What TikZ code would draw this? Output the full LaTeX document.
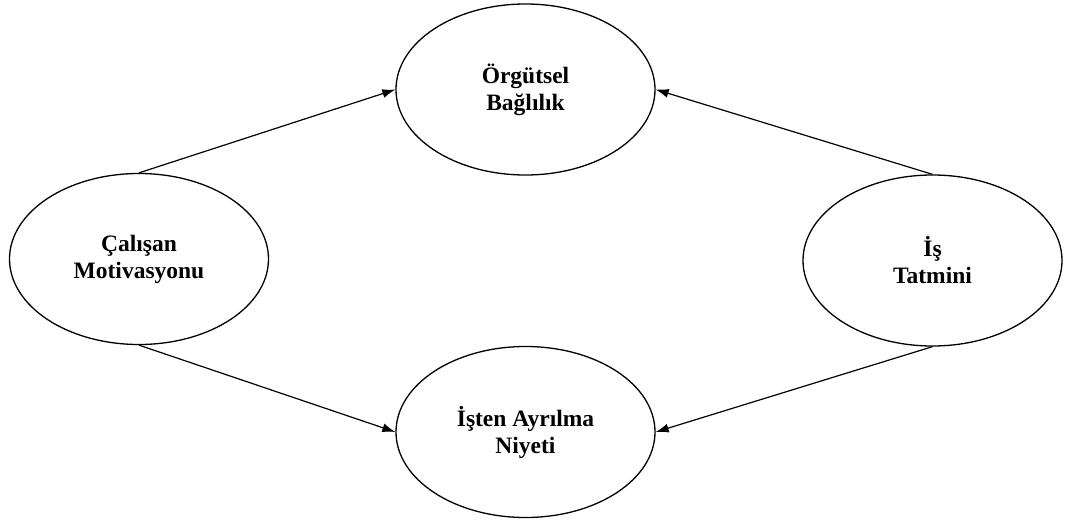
\documentclass[tikz,border=0pt]{standalone}
\usepackage{fontspec}
\setmainfont{Liberation Serif}
\usetikzlibrary{shapes.geometric,arrows.meta}
\tikzset{
  oval/.style={ellipse, draw=black, line width=1.3pt, minimum width=259pt, minimum height=171pt, inner sep=0pt, align=center, font=\fontsize{23.5}{27}\selectfont\bfseries},
  conn/.style={line width=1.2pt, -{Latex[length=13pt,width=9pt]}}
}
\begin{document}
\begin{tikzpicture}[x=1pt,y=-1pt]
\useasboundingbox (0,0) rectangle (1069,522);
\node[oval] (ob) at (525.5,89.5) {Örgütsel\\Bağlılık};
\node[oval] (cm) at (139,259) {Çalışan\\Motivasyonu};
\node[oval] (it) at (932.5,260.5) {İş\\Tatmini};
\node[oval] (ia) at (525.5,432) {İşten Ayrılma\\Niyeti};
\draw[conn] (cm.north) -- (ob.west);
\draw[conn] (it.north) -- (ob.east);
\draw[conn] (cm.south) -- (ia.west);
\draw[conn] (it.south) -- (ia.east);
\end{tikzpicture}
\end{document}
